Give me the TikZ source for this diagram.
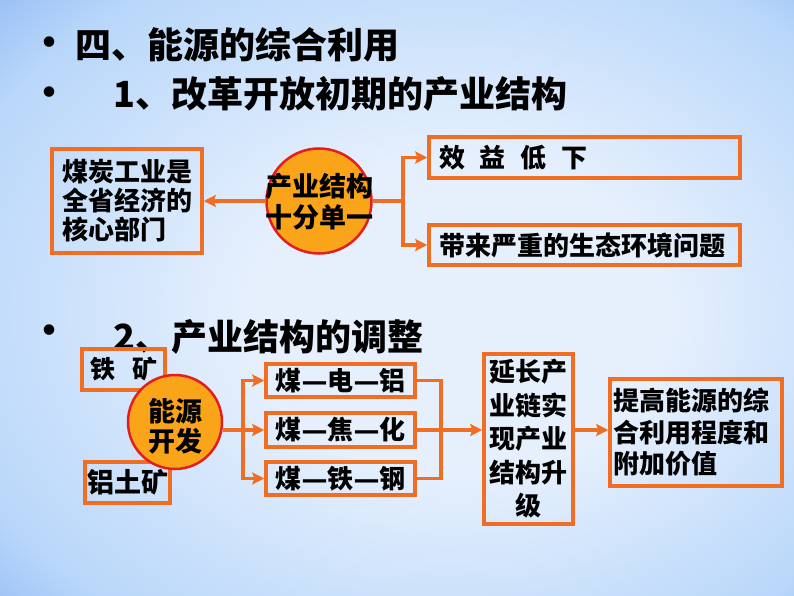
\documentclass[tikz,border=0pt]{standalone}
\usepackage{fontspec}
\setmainfont{Noto Sans CJK SC}
\newfontfamily\dashfont{DejaVu Sans}
\usetikzlibrary{arrows.meta}
\definecolor{boxorange}{RGB}{240,110,35}
\definecolor{hubfill}{RGB}{250,165,25}
\definecolor{hubred}{RGB}{228,30,30}
\definecolor{bgin}{RGB}{230,240,253}
\definecolor{bgmid}{RGB}{185,215,250}
\definecolor{bgout}{RGB}{100,152,238}
\pgfdeclareradialshading{slidebg}{\pgfpoint{5bp}{-2bp}}{color(0bp)=(bgin);color(13bp)=(bgin);color(32bp)=(bgmid);color(47bp)=(bgout);color(60bp)=(bgout)}
\newcommand{\chaindash}{{\dashfont\bfseries —}}
\tikzset{
  box/.style={draw=boxorange,line width=3.5pt,inner sep=0pt},
  hub/.style={circle,draw=hubred,fill=hubfill,line width=2.5pt,inner sep=0pt},
  txt/.style={inner sep=0pt,font=\fontsize{26pt}{30pt}\selectfont\bfseries},
  head/.style={inner sep=0pt,anchor=west,font=\fontsize{36pt}{40pt}\selectfont\bfseries},
  dot/.style={inner sep=0pt,font=\fontsize{38pt}{38pt}\selectfont\bfseries},
  link/.style={draw=boxorange,line width=3.5pt},
  flow/.style={link,-{Stealth[length=12pt,width=12pt,inset=2pt]}}
}
\begin{document}
\begin{tikzpicture}[x=1pt,y=-1pt]
  \useasboundingbox (0,0) rectangle (794,596);
  \shade[shading=slidebg] (0,0) rectangle (794,596);
  \draw
    (49,47) node[dot] (d1){•}
    (75,45) node[head] (h1){四、能源的综合利用}
    (49,97) node[dot] (d2){•}
    (113,94) node[head] (h2){1、改革开放初期的产业结构}
    (49,335) node[dot] (d3){•}
    (113,337) node[head] (h3){2、产业结构的调整};
  \draw
    (127,201) node[box,txt,minimum width=150,minimum height=104,text width=130,align=left,
      font=\fontsize{26pt}{29pt}\selectfont\bfseries] (core){煤炭工业是\\全省经济的\\核心部门}
    (584.5,157.5) node[box,txt,minimum width=311,minimum height=41,text width=291,align=left] (low){效\hspace{15pt}益\hspace{15pt}低\hspace{15pt}下}
    (584.5,245) node[box,txt,minimum width=311,minimum height=40,text width=291,align=left] (eco){带来严重的生态环境问题}
    (319,201) node[hub,minimum size=105] (single){}
    (319,202) node[txt,align=center,font=\fontsize{27pt}{31pt}\selectfont\bfseries] (singlet){产业结构\\十分单一};
  \draw
    (123.5,369.5) node[box,txt,minimum width=83,minimum height=41,font=\fontsize{25pt}{30pt}\selectfont\bfseries] (iron){铁\hspace{17pt}矿}
    (127.5,482.5) node[box,txt,minimum width=85,minimum height=41,font=\fontsize{27pt}{30pt}\selectfont\bfseries] (bauxite){铝土矿}
    (175,422) node[hub,minimum size=94] (energy){}
    (175,426) node[txt,align=center,font=\fontsize{27pt}{30pt}\selectfont\bfseries] (energyt){能源\\开发}
    (340.5,380.5) node[box,txt,minimum width=149,minimum height=33] (al){煤\chaindash 电\chaindash 铝}
    (340.5,430) node[box,txt,minimum width=149,minimum height=34] (coke){煤\chaindash 焦\chaindash 化}
    (340.5,478.5) node[box,txt,minimum width=149,minimum height=33] (steel){煤\chaindash 铁\chaindash 钢}
    (528.5,439) node[box,txt,minimum width=89,minimum height=170,align=center,
      font=\fontsize{26pt}{33.5pt}\selectfont\bfseries] (chain){延长产\\业链实\\现产业\\结构升\\级}
    (696,432.5) node[box,txt,minimum width=172,minimum height=107,text width=166,align=left,
      font=\fontsize{26pt}{31.5pt}\selectfont\bfseries] (goal){提高能源的综\\合利用程度和\\附加价值};
  \coordinate (j1) at (403,201);
  \coordinate (j2) at (243,430);
  \coordinate (j3) at (441,430);
  \begin{scope}
    \draw[flow] (single.west) to (core.east);
    \draw[link] (single.east) to (j1);
    \draw[flow] (j1) |- (low.west);
    \draw[flow] (j1) |- (eco.west);
    \draw[link] (j2 -| energy.east) to (j2);
    \draw[flow] (j2) |- (al.west);
    \draw[flow] (j2) to (coke.west);
    \draw[flow] (j2) |- (steel.west);
    \draw[link] (al.east) -| (j3);
    \draw[link] (steel.east) -| (j3);
    \draw[link] (coke.east) to (j3);
    \draw[flow] (j3) to (j3 -| chain.west);
    \draw[flow] (j3 -| chain.east) to (j3 -| goal.west);
  \end{scope}
\end{tikzpicture}
\end{document}
